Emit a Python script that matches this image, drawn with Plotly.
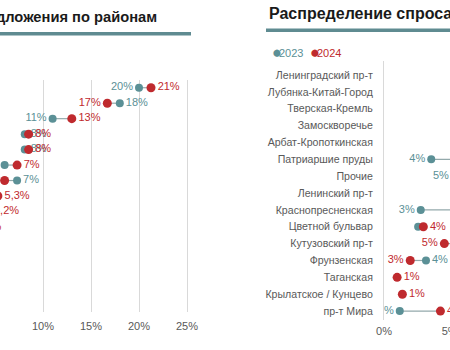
import plotly.graph_objects as go

# ---------------- data ----------------
left_title = "Распределение предложения по районам"
right_title = "Распределение спроса по районам"
series_names = ["2023", "2024"]

left_cats = ["Хамовники", "Пресненский", "Тверской", "Арбат", "Якиманка",
             "Замоскворечье", "Басманный", "Мещанский", "Таганский", "Красносельский",
             "Дорогомилово", "Раменки", "Гагаринский", "Беговой", "Прочие"]
left_2023 = [20.0, 18.0, 11.0, 8.1, 8.1, 6.0, 7.3, 4.0, 3.0, 2.0, 1.5, 2.8, 1.0, 0.8, 0.5]
left_2024 = [21.25, 16.7, 13.0, 8.5, 8.5, 7.3, 6.0, 5.3, 4.2, 3.3, 2.5, 1.9, 2.0, 1.5, 1.0]
left_lab_2023 = ["20%", "18%", "11%", "8%", "8%", "6%", "7%", "4%", "3%", "2%", "2%", "3%", "1%", "1%", "1%"]
left_lab_2024 = ["21%", "17%", "13%", "8%", "8%", "7%", "6%", "5,3%", "4,2%", "3%", "3%", "2%", "2%", "2%", "1%"]

right_cats = ["Ленинградский пр-т", "Лубянка-Китай-Город", "Тверская-Кремль", "Замоскворечье",
              "Арбат-Кропоткинская", "Патриаршие пруды", "Прочие", "Ленинский пр-т",
              "Краснопресненская", "Цветной бульвар", "Кутузовский пр-т", "Фрунзенская",
              "Таганская", "Крылатское / Кунцево", "пр-т Мира"]
right_2023 = [14.0, 10.0, 11.0, 8.0, 7.0, 3.6, 5.4, 7.5, 2.8, 2.6, 6.5, 3.2, None, None, 1.2]
right_2024 = [11.0, 12.0, 9.0, 9.0, 8.5, 7.5, 8.0, 6.8, 6.0, 3.0, 4.6, 2.0, 1.0, 1.4, 4.3]
right_lab_2023 = ["14%", "10%", "11%", "8%", "7%", "4%", "5%", "8%", "3%", "", "7%", "4%", "", "", "1%"]
right_lab_2024 = ["11%", "12%", "9%", "9%", "9%", "8%", "8%", "7%", "6%", "4%", "5%", "3%", "1%", "1%", "4%"]

left_ticks = [5, 10, 15, 20, 25]
right_ticks = [0, 5]

# ---------------- style ----------------
W, H = 450, 350
TEAL = "#5b9096"
RED = "#bf2a2e"
LINE = "#93a9ab"
GRID = "#d9d9d9"
TXT = "#595959"
FONT = "Liberation Sans, Arial, sans-serif"


def px(x):
    return x / W


def py(y):
    return 1 - y / H


def positions(a_vals, b_vals):
    pa, pb = [], []
    for a, b in zip(a_vals, b_vals):
        if a is None or b is None:
            pa.append("middle right")
            pb.append("middle right")
        elif abs(a - b) < 0.5:
            pa.append("middle right")
            pb.append("middle right")
        elif a < b:
            pa.append("middle left")
            pb.append("middle right")
        else:
            pa.append("middle right")
            pb.append("middle left")
    return pa, pb


def add_dumbbell(fig, cats, a_vals, b_vals, a_lab, b_lab, xa, ya):
    lx, ly = [], []
    for c, a, b in zip(cats, a_vals, b_vals):
        if a is None or b is None:
            continue
        lx += [a, b, None]
        ly += [c, c, None]
    fig.add_trace(go.Scatter(x=lx, y=ly, mode="lines", line=dict(color=LINE, width=1.2),
                             xaxis=xa, yaxis=ya, showlegend=False, hoverinfo="skip"))
    pa, pb = positions(a_vals, b_vals)
    fig.add_trace(go.Scatter(x=a_vals, y=cats, mode="markers+text", name=series_names[0],
                             marker=dict(color=TEAL, size=8), text=a_lab, textposition=pa,
                             textfont=dict(color=TEAL, size=11, family=FONT),
                             xaxis=xa, yaxis=ya, showlegend=False))
    fig.add_trace(go.Scatter(x=b_vals, y=cats, mode="markers+text", name=series_names[1],
                             marker=dict(color=RED, size=9), text=b_lab, textposition=pb,
                             textfont=dict(color=RED, size=11, family=FONT),
                             xaxis=xa, yaxis=ya, showlegend=False))


fig = go.Figure()
add_dumbbell(fig, left_cats, left_2023, left_2024, left_lab_2023, left_lab_2024, "x", "y")
add_dumbbell(fig, right_cats, right_2023, right_2024, right_lab_2023, right_lab_2024, "x2", "y2")

# left axis: 10% at x=43px, 9.6 px per %
l_lo = 10 - 43 / 9.6
l_hi = 10 + (195 - 43) / 9.6

fig.update_layout(
    width=W, height=H, template="none",
    margin=dict(l=0, r=0, t=0, b=0),
    paper_bgcolor="white", plot_bgcolor="rgba(0,0,0,0)",
    font=dict(family=FONT, color=TXT, size=11),
    showlegend=False,
    xaxis=dict(domain=[0, px(195)], range=[l_lo, l_hi], anchor="y",
               tickvals=left_ticks, ticktext=[f"{t}%" for t in left_ticks],
               showgrid=True, gridcolor=GRID, gridwidth=1, zeroline=False, showline=False,
               ticks="", ticklabelstandoff=6, automargin=False, ticklabeloverflow="allow",
               tickfont=dict(size=11, color=TXT)),
    yaxis=dict(domain=[py(312), py(80)], type="category", categoryorder="array",
               categoryarray=left_cats, range=[14.5, -0.5], anchor="x",
               showgrid=False, zeroline=False, showline=False, ticks="",
               automargin=False, tickfont=dict(size=11, color=TXT)),
    xaxis2=dict(domain=[px(384), 1], range=[0, 5.03], anchor="y2",
                tickvals=right_ticks, ticktext=[f"{t}%" for t in right_ticks],
                showgrid=False, zeroline=False, showline=False, ticks="",
                ticklabelstandoff=3, automargin=False, ticklabeloverflow="allow",
                tickfont=dict(size=11, color=TXT)),
    yaxis2=dict(domain=[py(320), py(61)], type="category", categoryorder="array",
                categoryarray=right_cats, range=[14.53, -0.83], anchor="x2",
                showgrid=False, zeroline=False, showline=True, linecolor=GRID, linewidth=1,
                ticks="", ticklabelstandoff=8, automargin=False,
                tickfont=dict(size=10.6, color=TXT)),
)

# title bars
fig.add_shape(type="rect", xref="paper", yref="paper", x0=0, x1=px(191), y0=py(35.5), y1=py(32),
              fillcolor="#5f8b91", line_width=0, layer="below")
fig.add_shape(type="rect", xref="paper", yref="paper", x0=px(266), x1=1, y0=py(32), y1=py(28.5),
              fillcolor="#5f8b91", line_width=0, layer="below")

# titles
fig.add_annotation(text=f"<b>{left_title}</b>", xref="paper", yref="paper", x=px(159), y=py(17),
                   xanchor="right", yanchor="middle", showarrow=False,
                   font=dict(size=14.7, color="#1a1a1a", family=FONT))
fig.add_annotation(text=f"<b>{right_title}</b>", xref="paper", yref="paper", x=px(267), y=py(13),
                   xanchor="left", yanchor="middle", showarrow=False,
                   font=dict(size=16, color="#1a1a1a", family=FONT))

# legend (dot + label per series)
leg_x = [272, 310]
for n, c, lx in zip(series_names, [TEAL, RED], leg_x):
    fig.add_annotation(text="⬤", xref="paper", yref="paper", x=px(lx), y=py(53),
                       xanchor="left", yanchor="middle", showarrow=False,
                       font=dict(size=7, color=c), borderpad=0)
    fig.add_annotation(text=n, xref="paper", yref="paper", x=px(lx + 6), y=py(53),
                       xanchor="left", yanchor="middle", showarrow=False,
                       font=dict(size=11, color=c, family=FONT), borderpad=0)

fig.write_html("out.html")
